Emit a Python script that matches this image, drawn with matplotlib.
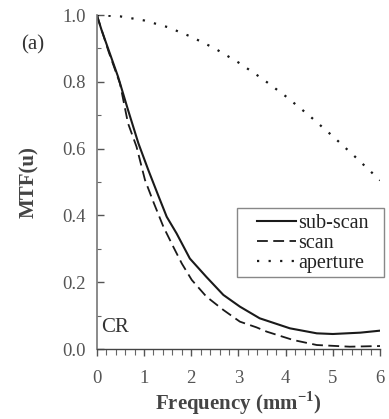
import matplotlib
matplotlib.use("Agg")
import matplotlib.pyplot as plt
from matplotlib.ticker import MultipleLocator
from matplotlib.patches import Rectangle

# Data
sub_u = [0, 0.1, 0.25, 0.45, 0.66, 0.88, 1.09, 1.3, 1.48, 1.69, 1.97, 2.32,
         2.68, 3.03, 3.45, 4.09, 4.66, 5.0, 5.58, 6.0]
sub_y = [1.0, 0.955, 0.895, 0.815, 0.716, 0.616, 0.536, 0.46, 0.396, 0.346,
         0.271, 0.216, 0.162, 0.127, 0.092, 0.062, 0.047, 0.045, 0.049, 0.055]

scan_u = [0, 0.25, 0.49, 0.66, 0.84, 1.02, 1.21, 1.41, 1.62, 1.80, 2.01, 2.32,
          2.68, 3.03, 3.38, 3.6, 4.16, 4.66, 5.36, 6.0]
scan_y = [1.0, 0.89, 0.795, 0.676, 0.606, 0.506, 0.436, 0.366, 0.306, 0.256,
          0.207, 0.157, 0.117, 0.082, 0.065, 0.052, 0.027, 0.012, 0.007, 0.009]

ap_u = [0, 0.5, 1, 1.5, 2, 2.5, 3, 3.5, 4, 4.5, 5, 5.5, 6]
ap_y = [1.0, 0.996, 0.984, 0.964, 0.935, 0.900, 0.858, 0.810, 0.757, 0.699,
        0.637, 0.572, 0.505]

series_labels = ["sub-scan", "scan", "aperture"]
x_ticks = [0, 1, 2, 3, 4, 5, 6]
y_ticks = [0.0, 0.2, 0.4, 0.6, 0.8, 1.0]

plt.rcParams['font.family'] = ['Liberation Serif', 'DejaVu Serif']
plt.rcParams['mathtext.fontset'] = 'custom'
plt.rcParams['mathtext.rm'] = 'Liberation Serif:bold'
plt.rcParams['mathtext.bf'] = 'Liberation Serif:bold'

fig = plt.figure(figsize=(3.89, 4.19), dpi=100)
ax = fig.add_axes([0.249, 0.167, 0.728, 0.797])

ink = "#1a1a1a"
ax.plot(sub_u, sub_y, color=ink, lw=1.5, label=series_labels[0])
ax.plot(scan_u, scan_y, color=ink, lw=1.3, linestyle=(0, (6, 3)), label=series_labels[1])
ax.plot(ap_u, ap_y, color=ink, lw=1.6, linestyle=(0, (1, 4.2)), label=series_labels[2])

ax.set_xlim(0, 6)
ax.set_ylim(0, 1.0)
ax.set_xticks(x_ticks)
ax.set_yticks(y_ticks)
ax.set_yticklabels([f"{v:.1f}" for v in y_ticks])
ax.xaxis.set_minor_locator(MultipleLocator(0.2))
ax.yaxis.set_minor_locator(MultipleLocator(0.1))

for s in ["top", "right"]:
    ax.spines[s].set_visible(False)
ax.spines["left"].set_color("#777777")
ax.spines["left"].set_linewidth(1.2)
ax.spines["bottom"].set_color("#444444")
ax.spines["bottom"].set_linewidth(1.0)

ax.tick_params(axis="y", which="major", direction="in", length=5, width=1, color="#555555",
               labelsize=13.5, labelcolor="#555555", pad=8)
ax.tick_params(axis="y", which="minor", direction="in", length=3, width=0.8, color="#666666")
ax.tick_params(axis="x", which="major", direction="out", length=5, width=1, color="#555555",
               labelsize=13.5, labelcolor="#555555", pad=10)
ax.tick_params(axis="x", which="minor", direction="out", length=4, width=0.8, color="#666666")

ax.set_xlabel("Frequency (mm$^{-1}$)", fontsize=15, fontweight="bold", color="#444444", labelpad=2)
ax.set_ylabel("MTF(u)", fontsize=15, fontweight="bold", color="#444444", labelpad=17)

fig.text(0.055, 0.882, "(a)", fontsize=15, color="#333333")
ax.text(0.015, 0.05, "CR", transform=ax.transAxes, fontsize=15, color="#333333")

# legend frame drawn separately to match the wide padding of the original
frame = Rectangle((0.494, 0.216), 0.52, 0.205, transform=ax.transAxes,
                  facecolor="white", edgecolor="#888888", linewidth=1.0,
                  clip_on=False, zorder=4)
ax.add_patch(frame)
leg = ax.legend(loc="upper left", bbox_to_anchor=(0.565, 0.405), fontsize=14.5,
                frameon=False, handlelength=1.95, handletextpad=0.12,
                borderpad=0, labelspacing=0.05, borderaxespad=0)
leg.set_zorder(5)
for t in leg.get_texts():
    t.set_color("#222222")

fig.savefig("out.png", dpi=100)
